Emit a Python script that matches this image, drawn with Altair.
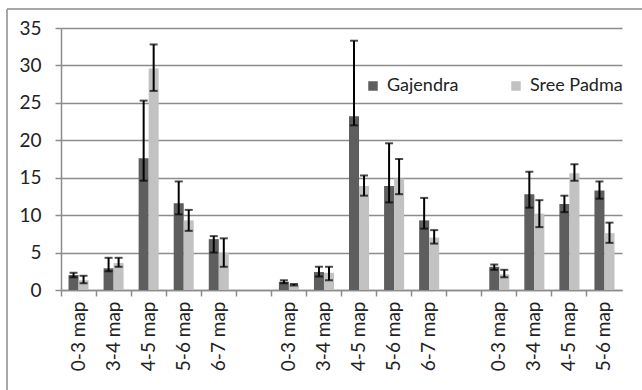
import altair as alt
import pandas as pd

# Category slots (groups separated by empty slots)
slot_ids = ["a|0-3 map", "a|3-4 map", "a|4-5 map", "a|5-6 map", "a|6-7 map", "gap1|",
            "b|0-3 map", "b|3-4 map", "b|4-5 map", "b|5-6 map", "b|6-7 map", "gap2|",
            "c|0-3 map", "c|3-4 map", "c|4-5 map", "c|5-6 map"]
cats = ["a|0-3 map", "a|3-4 map", "a|4-5 map", "a|5-6 map", "a|6-7 map",
        "b|0-3 map", "b|3-4 map", "b|4-5 map", "b|5-6 map", "b|6-7 map",
        "c|0-3 map", "c|3-4 map", "c|4-5 map", "c|5-6 map"]

series = ["Gajendra", "Sree Padma"]
y_ticks = [0, 5, 10, 15, 20, 25, 30, 35]

gaj_val = [2.0, 2.9, 17.6, 11.6, 6.8, 1.1, 2.4, 23.2, 13.9, 9.3, 3.1, 12.8, 11.5, 13.3]
gaj_lo = [1.7, 2.5, 14.6, 10.1, 5.0, 0.9, 1.8, 22.0, 11.7, 8.2, 2.7, 11.0, 10.4, 12.2]
gaj_hi = [2.3, 4.3, 25.3, 14.5, 7.2, 1.3, 3.1, 33.3, 19.6, 12.3, 3.4, 15.8, 12.6, 14.5]

sp_val = [1.3, 3.6, 29.6, 9.3, 5.0, 0.7, 2.3, 13.9, 14.9, 7.0, 2.1, 10.2, 15.6, 7.6]
sp_lo = [0.9, 3.1, 26.6, 7.9, 3.1, 0.6, 1.3, 12.6, 12.8, 6.2, 1.7, 8.4, 14.6, 6.3]
sp_hi = [1.9, 4.3, 32.8, 10.7, 6.9, 0.8, 3.1, 15.3, 17.5, 8.0, 2.7, 12.0, 16.8, 9.0]

rows = []
for i, c in enumerate(cats):
    rows.append(dict(cat=c, series="Gajendra", value=gaj_val[i], lo=gaj_lo[i], hi=gaj_hi[i]))
    rows.append(dict(cat=c, series="Sree Padma", value=sp_val[i], lo=sp_lo[i], hi=sp_hi[i]))
df = pd.DataFrame(rows)

FONT = "Lato"

x_axis = alt.Axis(title=None, bandPosition=0, labelOffset=0, labelAngle=-90,
                  labelExpr="split(datum.label, '|')[1]",
                  labelFontSize=19, labelColor="#222222", labelFont=FONT,
                  labelPadding=5, tickSize=6, tickColor="#8c8c8c",
                  domainColor="#8c8c8c", domainWidth=1.5, tickWidth=1.5,
                  grid=False)
y_axis = alt.Axis(title=None, values=y_ticks, tickCount=8,
                  grid=True, gridColor="#8c8c8c", gridWidth=1.5,
                  domainColor="#8c8c8c", domainWidth=1.5,
                  tickColor="#8c8c8c", tickSize=6, tickWidth=1.5,
                  labelFontSize=19, labelFont=FONT, labelColor="#222222",
                  labelPadding=14)

x_scale = alt.Scale(domain=slot_ids, paddingInner=0, paddingOuter=0)
xo_scale = alt.Scale(domain=series, paddingInner=0, paddingOuter=0.75)
y_scale = alt.Scale(domain=[0, 35], nice=False)


def xenc():
    return alt.X("cat:N", scale=x_scale, axis=x_axis)


def xoenc():
    return alt.XOffset("series:N", scale=xo_scale)


bars = alt.Chart(df).mark_bar().encode(
    x=xenc(),
    xOffset=xoenc(),
    y=alt.Y("value:Q", scale=y_scale, axis=y_axis),
    color=alt.Color("series:N", scale=alt.Scale(domain=series, range=["#5e5e5e", "#c2c2c2"]),
                    legend=alt.Legend(title=None, orient="none", legendX=303, legendY=49,
                                      direction="horizontal", symbolType="square",
                                      symbolSize=90, symbolStrokeWidth=0,
                                      labelFontSize=18, labelFont=FONT, labelColor="#222222",
                                      columnPadding=48, labelOffset=5)),
)

rules = alt.Chart(df).mark_rule(color="black", strokeWidth=2).encode(
    x=xenc(),
    xOffset=xoenc(),
    y=alt.Y("lo:Q", scale=y_scale, axis=y_axis),
    y2="hi:Q",
)
cap_lo = alt.Chart(df).mark_tick(color="black", thickness=2, size=8).encode(
    x=xenc(),
    xOffset=xoenc(),
    y=alt.Y("lo:Q", scale=y_scale, axis=y_axis),
)
cap_hi = alt.Chart(df).mark_tick(color="black", thickness=2, size=8).encode(
    x=xenc(),
    xOffset=xoenc(),
    y=alt.Y("hi:Q", scale=y_scale, axis=y_axis),
)

# outer chart frame (top and left edges only; the rest is cut off in the reference)
frame_top = alt.Chart(alt.Data(values=[{"f": 1}])).mark_rule(
    color="#a8a8a8", strokeWidth=2, clip=False
).encode(x=alt.value(-54), x2=alt.value(581), y=alt.value(-19))
frame_left = alt.Chart(alt.Data(values=[{"f": 1}])).mark_rule(
    color="#a8a8a8", strokeWidth=2, clip=False
).encode(x=alt.value(-54), y=alt.value(-19), y2=alt.value(362))

chart = alt.layer(frame_top, frame_left, bars, rules, cap_lo, cap_hi).properties(
    width=561, height=262,
    autosize=alt.AutoSizeParams(type="none"),
    padding={"left": 61, "top": 28, "right": 20, "bottom": 100},
    background="white",
).configure_view(strokeWidth=0)

chart.save("out.html", embed_options={"renderer": "svg", "actions": False})
